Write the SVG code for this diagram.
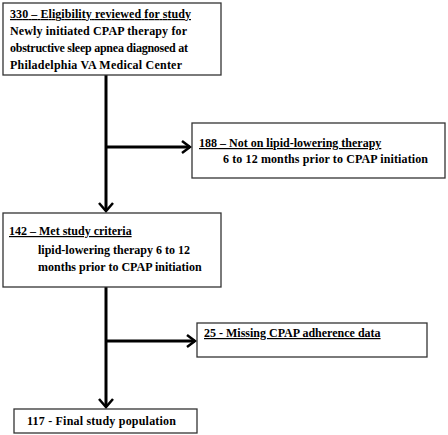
<svg xmlns="http://www.w3.org/2000/svg" width="448" height="435" viewBox="0 0 448 435">
<defs>
<style>
.box{fill:#fff;stroke:#333;stroke-width:1.3}
text{font-family:"Liberation Serif","Times New Roman",serif;font-weight:bold;font-size:12px;fill:#000}
.u{text-decoration:underline}
.ln{stroke:#000;stroke-width:3;fill:none}
.ah{stroke:#000;stroke-width:2.5;fill:none;stroke-linejoin:miter}
</style>
</defs>
<g id="connectors">
<line class="ln" x1="106" y1="75" x2="106" y2="211"/>
<polyline class="ah" points="99,203 106,211 113,203"/>
<line class="ln" x1="106" y1="147" x2="190" y2="147"/>
<polyline class="ah" points="182,141 190,147 182,153"/>
<line class="ln" x1="106" y1="287" x2="106" y2="407"/>
<polyline class="ah" points="99,399 106,407 113,399"/>
<line class="ln" x1="106" y1="341" x2="195" y2="341"/>
<polyline class="ah" points="187,335 195,341 187,347"/>
</g>
<g id="eligibility">
<rect class="box" x="3" y="3" width="218" height="72"/>
<text x="10" y="18" class="u" textLength="181" lengthAdjust="spacing">330 – Eligibility reviewed for study</text>
<text x="10" y="35" textLength="177" lengthAdjust="spacing">Newly initiated  CPAP therapy for</text>
<text x="10" y="52" textLength="178" lengthAdjust="spacing">obstructive sleep  apnea diagnosed at</text>
<text x="10" y="69" textLength="172" lengthAdjust="spacing">Philadelphia VA Medical Center</text>
</g>
<g id="not-on-therapy">
<rect class="box" x="192" y="123" width="253" height="55"/>
<text x="199" y="147" class="u">188 – Not on lipid-lowering therapy</text>
<text x="223" y="163" textLength="205" lengthAdjust="spacing">6 to 12 months prior to CPAP initiation</text>
</g>
<g id="met-criteria">
<rect class="box" x="3" y="213" width="218" height="74"/>
<text x="9" y="235" class="u">142 – Met study criteria</text>
<text x="38" y="254">lipid-lowering therapy 6 to 12</text>
<text x="38" y="271">months prior to CPAP initiation</text>
</g>
<g id="missing-data">
<rect class="box" x="197" y="323" width="230" height="34"/>
<text x="204" y="337" class="u">25 - Missing  CPAP adherence data</text>
</g>
<g id="final">
<rect class="box" x="14" y="409" width="183" height="24"/>
<text x="27" y="425" textLength="149" lengthAdjust="spacing">117 - Final study population</text>
</g>
</svg>
